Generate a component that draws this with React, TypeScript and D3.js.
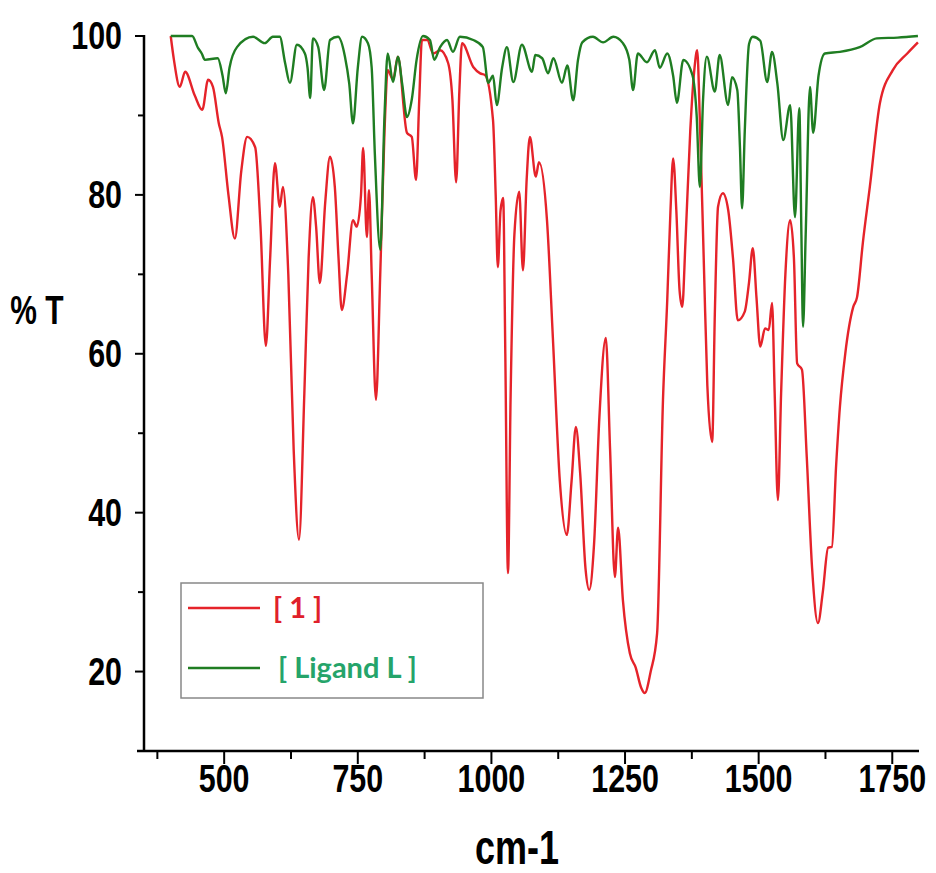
import React, { useRef, useEffect } from "react";
import * as d3 from "d3";

// IR spectrum of complex [1] (wavenumber, %T)
const wnComplex = [
  400, 406, 417, 427, 445, 459, 470, 479, 490, 496, 508, 520, 532, 543, 558, 568, 578, 586, 595, 604,
  610, 620, 630, 640, 650, 658, 666, 672, 679, 689, 698, 707, 714, 720, 730, 741, 748, 756, 760, 767,
  771, 776, 784, 792, 800, 806, 816, 825, 842, 851, 859, 865, 870, 880, 891, 904, 919, 927, 934, 940,
  945, 966, 979, 988, 1003, 1008, 1012, 1017, 1022, 1026, 1031, 1036, 1043, 1052, 1059, 1066, 1072, 1083, 1089, 1104,
  1115, 1128, 1141, 1150, 1158, 1166, 1176, 1183, 1192, 1202, 1214, 1222, 1231, 1237, 1246, 1259, 1270, 1280, 1287, 1298,
  1310, 1321, 1329, 1335, 1340, 1346, 1352, 1357, 1363, 1372, 1380, 1385, 1390, 1398, 1404, 1413, 1418, 1424, 1433, 1443,
  1452, 1461, 1474, 1482, 1489, 1496, 1503, 1512, 1519, 1525, 1530, 1536, 1542, 1550, 1559, 1566, 1572, 1581, 1590, 1600,
  1611, 1620, 1630, 1637, 1645, 1652, 1662, 1677, 1684, 1695, 1708, 1727, 1751, 1778, 1798,
];
const tComplex = [
  100, 97, 93.6, 95.5, 92.5, 90.7, 94.5, 93.6, 89, 87.3, 80, 74.5, 83, 87.3, 86, 76, 61, 72, 84, 78.5,
  81, 70, 48, 36.6, 55, 72, 79.7, 76, 68.9, 79, 84.8, 81, 72, 65.5, 70, 76.8, 76, 80, 85.9, 74.7,
  80.6, 70, 54.2, 70, 88, 95.7, 94.5, 97.4, 87.8, 87.3, 81.9, 92, 99.5, 99.5, 97.8, 98.2, 96.6, 92, 81.6, 93,
  99.1, 96.1, 95.3, 95.1, 89.4, 80, 70.9, 78, 79.6, 60, 32.4, 55, 75, 80.4, 70.5, 82, 87.3, 82.3, 84.1, 76.8,
  62, 44, 37.2, 44, 50.8, 45, 33, 30.3, 36, 52, 62, 48, 31.9, 38.1, 29, 22.3, 20.5, 18, 17.3, 20,
  24.8, 54.2, 66.8, 78, 84.6, 78, 68, 65.9, 74, 88, 96, 98.2, 89.4, 70, 56, 48.9, 65, 78.5, 80.2, 78.1,
  72, 64.2, 65.3, 69, 73.3, 67, 60.9, 63.2, 63, 66.4, 55, 41.6, 55, 70, 76.8, 72, 58.8, 58, 47, 33,
  26.1, 30, 35.6, 35.7, 46, 53.3, 60, 65.9, 67.1, 74, 81, 91.6, 95.7, 97.8, 99.2,
];

// IR spectrum of ligand L
const wnLigand = [
  400, 440, 451, 458, 464, 488, 497, 503, 510, 524, 554, 576, 591, 604, 614, 623, 636, 651, 656, 661,
  666, 676, 687, 698, 713, 726, 734, 741, 750, 758, 769, 776, 782, 792, 800, 806, 816, 825, 833, 842,
  851, 860, 872, 885, 893, 904, 917, 928, 941, 966, 984, 994, 1003, 1010, 1020, 1029, 1041, 1057, 1076, 1082,
  1095, 1106, 1116, 1132, 1142, 1153, 1162, 1170, 1190, 1209, 1228, 1246, 1258, 1265, 1274, 1291, 1306, 1315, 1329, 1340,
  1347, 1359, 1376, 1384, 1390, 1396, 1403, 1418, 1427, 1443, 1450, 1460, 1465, 1469, 1474, 1482, 1489, 1503, 1516, 1525,
  1535, 1546, 1559, 1568, 1576, 1580, 1583, 1588, 1596, 1602, 1612, 1624, 1652, 1689, 1721, 1760, 1798,
];
const tLigand = [
  100, 100, 98.5, 97.8, 97, 97.2, 95, 92.8, 96, 98.6, 99.9, 99.1, 99.9, 99.9, 96.6, 94.1, 98.9, 97.8, 96, 92.2,
  99.7, 98.6, 93.2, 99.5, 99.9, 97.4, 94, 89, 96, 99.9, 99.1, 96, 85, 73.1, 90, 97.8, 94.2, 97.4, 94, 89.8,
  92, 97, 100, 99.5, 97, 98.6, 99.5, 98, 99.9, 99.5, 98.6, 94.1, 95, 91.3, 96, 98.6, 94.2, 98.9, 95.5, 97.6,
  97.2, 95.3, 97.2, 94.1, 96.3, 91.9, 97, 99.2, 99.9, 99.2, 99.9, 99.1, 97, 93.2, 97.8, 96.7, 98.2, 96, 97.8, 95,
  91.6, 97, 95.1, 90, 81, 92, 97.4, 93, 97.6, 91.3, 94.8, 93.2, 86, 78.3, 88, 99, 99.9, 99.4, 94.2, 98,
  94, 86.9, 91.3, 77.2, 90.9, 75, 63.4, 75, 93.6, 87.8, 95, 97.8, 98, 98.6, 99.7, 99.8, 100,
];

const xTicks = [500, 750, 1000, 1250, 1500, 1750];
const xMinorTicks = [375, 625, 875, 1125, 1375, 1625];
const yTicks = [20, 40, 60, 80, 100];
const yMinorTicks = [10, 30, 50, 70, 90];

const seriesNames = ["[ 1 ]", "[ Ligand L ]"];
const lineColors = ["#e5232a", "#1f7d22"];
const textColors = ["#e0202a", "#25a46a"];

const App = () => {
  const svgRef = useRef(null);

  useEffect(() => {
    const width = 936;
    const height = 873;
    const left = 144;
    const right = 919;
    const top = 36;
    const bottom = 751;

    const svg = d3.select(svgRef.current)
      .attr("width", width)
      .attr("height", height);

    svg.selectAll("*").remove();

    const x = d3.scaleLinear().domain([350, 1800]).range([left, right]);
    const y = d3.scaleLinear().domain([10, 100]).range([bottom, top]);

    const line = d3.line()
      .x(d => x(d[0]))
      .y(d => y(d[1]))
      .curve(d3.curveMonotoneX);

    const complexData = wnComplex.map((w, i) => [w, tComplex[i]]);
    const ligandData = wnLigand.map((w, i) => [w, tLigand[i]]);

    svg.append("path")
      .datum(complexData)
      .attr("fill", "none")
      .attr("stroke", lineColors[0])
      .attr("stroke-width", 2.4)
      .attr("stroke-linejoin", "round")
      .attr("d", line);

    svg.append("path")
      .datum(ligandData)
      .attr("fill", "none")
      .attr("stroke", lineColors[1])
      .attr("stroke-width", 2.4)
      .attr("stroke-linejoin", "round")
      .attr("d", line);

    // condensed bold labels (Arial Narrow look)
    const font = "'Liberation Sans', Arial, sans-serif";
    const squeeze = 0.8;

    // x axis
    const gx = svg.append("g").attr("transform", `translate(0,${bottom})`);
    gx.append("line")
      .attr("x1", left - 7).attr("x2", right)
      .attr("stroke", "#000").attr("stroke-width", 2.5);
    gx.selectAll(".maj").data(xTicks).enter().append("line")
      .attr("x1", d => x(d)).attr("x2", d => x(d))
      .attr("y1", 0).attr("y2", 13)
      .attr("stroke", "#000").attr("stroke-width", 2);
    gx.selectAll(".min").data(xMinorTicks).enter().append("line")
      .attr("x1", d => x(d)).attr("x2", d => x(d))
      .attr("y1", 0).attr("y2", 8)
      .attr("stroke", "#000").attr("stroke-width", 2);
    gx.selectAll("text").data(xTicks).enter().append("text")
      .attr("transform", d => `translate(${x(d)},41) scale(${squeeze},1)`)
      .attr("text-anchor", "middle")
      .attr("font-family", font)
      .attr("font-weight", "bold")
      .attr("font-size", 38)
      .text(d => d);

    // y axis
    const gy = svg.append("g").attr("transform", `translate(${left},0)`);
    gy.append("line")
      .attr("y1", top - 1).attr("y2", bottom + 1)
      .attr("stroke", "#000").attr("stroke-width", 2.5);
    gy.selectAll(".maj").data(yTicks).enter().append("line")
      .attr("x1", 0).attr("x2", -9)
      .attr("y1", d => y(d)).attr("y2", d => y(d))
      .attr("stroke", "#000").attr("stroke-width", 2);
    gy.selectAll(".min").data(yMinorTicks).enter().append("line")
      .attr("x1", 0).attr("x2", -6)
      .attr("y1", d => y(d)).attr("y2", d => y(d))
      .attr("stroke", "#000").attr("stroke-width", 2);
    gy.selectAll("text").data(yTicks).enter().append("text")
      .attr("transform", d => `translate(-22,${y(d) + 13}) scale(${squeeze},1)`)
      .attr("text-anchor", "end")
      .attr("font-family", font)
      .attr("font-weight", "bold")
      .attr("font-size", 38)
      .text(d => d);

    // axis titles
    svg.append("text")
      .attr("transform", `translate(517,864) scale(0.75,1)`)
      .attr("text-anchor", "middle")
      .attr("font-family", font)
      .attr("font-weight", "bold")
      .attr("font-size", 48)
      .text("cm-1");
    svg.append("text")
      .attr("transform", `translate(37,324) scale(0.75,1)`)
      .attr("text-anchor", "middle")
      .attr("font-family", font)
      .attr("font-weight", "bold")
      .attr("font-size", 40)
      .text("% T");

    // legend
    const lg = svg.append("g").attr("transform", "translate(181,583)");
    lg.append("rect")
      .attr("width", 302).attr("height", 115)
      .attr("fill", "#fff")
      .attr("stroke", "#888").attr("stroke-width", 1.5);
    seriesNames.forEach((name, i) => {
      const ly = 25 + i * 60;
      lg.append("line")
        .attr("x1", 7).attr("x2", 79)
        .attr("y1", ly).attr("y2", ly)
        .attr("stroke", lineColors[i]).attr("stroke-width", 2.4);
      lg.append("text")
        .attr("x", i === 0 ? 92 : 97).attr("y", ly)
        .attr("dy", "0.35em")
        .attr("fill", textColors[i])
        .attr("font-family", "Lato, 'Open Sans', sans-serif")
        .attr("font-weight", "bold")
        .attr("font-size", 29)
        .text(name);
    });
  }, []);

  return <svg ref={svgRef} style={{ position: "absolute", left: 0, top: 0, background: "#fff" }}></svg>;
};

export default App;
